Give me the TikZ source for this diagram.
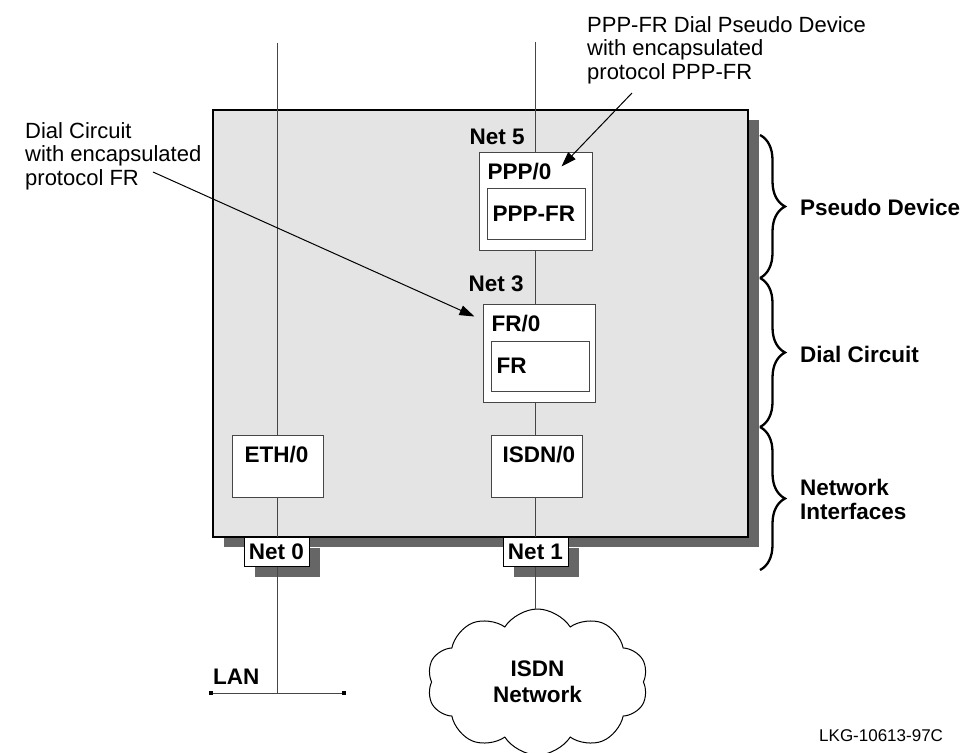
\documentclass[tikz,border=0pt]{standalone}
\usepackage{fontspec}
\setmainfont{Liberation Sans}
\usepackage{tikz}
\usetikzlibrary{shapes.symbols}
\usetikzlibrary{arrows.meta}
\usetikzlibrary{shadows}
\usetikzlibrary{decorations.pathreplacing}
\definecolor{panelgray}{RGB}{228,228,228}
\definecolor{shadegray}{RGB}{102,102,102}
\definecolor{wiregray}{RGB}{70,70,70}
\tikzset{
	dev box/.style={rectangle,draw=wiregray,fill=white,line width=1pt,inner sep=0pt},
	net box/.style={rectangle,draw=black,fill=white,line width=1pt,inner sep=0pt,
		minimum width=65pt,minimum height=29pt,font=\bfseries\fontsize{22.5}{24}\selectfont,
		drop shadow={shadow xshift=11pt,shadow yshift=-11pt,fill=shadegray,opacity=1}},
	lbl/.style={inner sep=0pt,font=\bfseries\fontsize{22.5}{23.5}\selectfont},
	note/.style={inner sep=0pt,align=left,font=\fontsize{22}{23.5}\selectfont},
	wire/.style={draw=wiregray,line width=1pt},
	side brace/.style={decorate,decoration={brace,amplitude=25pt},line width=2.3pt},
	lan end/.style={rectangle,fill=black,inner sep=0pt,minimum size=4pt}
}

\begin{document}
\begin{tikzpicture}[x=1pt,y=-1pt,>={Triangle[length=15pt,width=10pt]}]
	\useasboundingbox (0,0) rectangle (963,752);
	% router panel
	\node [draw=black,fill=panelgray,line width=1.2pt,minimum width=535pt,minimum height=427pt,
		drop shadow={shadow xshift=11pt,shadow yshift=-10pt,fill=shadegray,opacity=1}] (router) at (480.5,323.5) {};
	% devices
	\node [dev box,minimum width=113pt,minimum height=98pt] (ppp0) at (535.5,201) {};
	\node [dev box,minimum width=98pt,minimum height=51pt] (pppfr) at (536,213.5) {};
	\node [dev box,minimum width=112pt,minimum height=98pt] (fr0) at (539,353) {};
	\node [dev box,minimum width=98pt,minimum height=50pt] (frbox) at (540,366) {};
	\node [dev box,minimum width=91pt,minimum height=62pt] (eth0) at (277.5,466) {};
	\node [dev box,minimum width=91pt,minimum height=62pt] (isdn0) at (536.5,466) {};
	\node [net box] (net0) at (276.5,551.5) {Net 0};
	\node [net box] (net1) at (535.5,551.5) {Net 1};
	\node [lbl,anchor=base west] (ppp0t) at ([shift={(9,28)}]ppp0.north west) {PPP/0};
	\node [lbl,anchor=base west] (pppfrt) at ([shift={(6,34)}]pppfr.north west) {PPP-FR};
	\node [lbl,anchor=base west] (fr0t) at ([shift={(9,28)}]fr0.north west) {FR/0};
	\node [lbl,anchor=base west] (frt) at ([shift={(6,33)}]frbox.north west) {FR};
	\node [lbl,anchor=base west] (eth0t) at ([shift={(13,28)}]eth0.north west) {ETH/0};
	\node [lbl,anchor=base west] (isdn0t) at ([shift={(12,28)}]isdn0.north west) {ISDN/0};
	\node [lbl,anchor=base west] (net5) at ([shift={(-9,-7)}]ppp0.north west) {Net 5};
	\node [lbl,anchor=base west] (net3) at ([shift={(-14,-12)}]fr0.north west) {Net 3};
	% outside
	\node [cloud,draw=black,fill=white,line width=1pt,cloud puffs=10,cloud puff arc=115,cloud ignores aspect,
		minimum width=221pt,minimum height=146pt,align=center,font=\bfseries\fontsize{22.5}{26}\selectfont] (isdnnet) at (537.5,682) {ISDN\\Network};
	\node [lan end] (lanL) at (211,693) {};
	\node [lan end] (lanR) at (344,693) {};
	\node [lbl,anchor=base west] (lan) at (213,684) {LAN};
	\coordinate (top0) at (277,43);
	\coordinate (top1) at (535,42);
	% wires
	\draw [wire] (lanL) -- (lanR);
	\draw [wire] (top0) -- (top0 |- eth0.north);
	\draw [wire] (top0 |- eth0.south) -- (top0 |- net0.north);
	\draw [wire] (top0 |- net0.south) -- (top0 |- lanL);
	\draw [wire] (top1) -- (top1 |- ppp0.north);
	\draw [wire] (top1 |- ppp0.south) -- (top1 |- fr0.north);
	\draw [wire] (top1 |- fr0.south) -- (top1 |- isdn0.north);
	\draw [wire] (top1 |- isdn0.south) -- (top1 |- net1.north);
	\draw [wire] (top1 |- net1.south) -- (top1 |- isdnnet.north);
	% notes
	\node [note,anchor=north west] (pppnote) at (587,16) {PPP-FR Dial Pseudo Device\\with encapsulated\\protocol PPP-FR};
	\node [note,anchor=north west] (dcnote) at (25,122) {Dial Circuit\\with encapsulated\\protocol FR};
	\coordinate (pppfrom) at (632,93);
	\coordinate (dcfrom) at (153,172);
	\draw [->,line width=1pt] (pppfrom) -- ([shift={(-31,15)}]ppp0.north east);
	\draw [->,line width=1pt] (dcfrom) -- ([shift={(-8,13)}]fr0.north west);
	% layers
	\draw [side brace] (760,135) -- (760,278);
	\draw [side brace] (760,278) -- (760,427);
	\draw [side brace] (760,427) -- (760,570);
	\node [lbl,anchor=base west] (pseudo) at (800,215) {Pseudo Device};
	\node [lbl,anchor=base west] (dial) at (800,362) {Dial Circuit};
	\node [lbl,anchor=north west,align=left] (netif) at (800,479) {Network\\Interfaces};
	\node [anchor=base west,inner sep=0pt,font=\fontsize{17}{20}\selectfont] (lkg) at (819,741) {LKG-10613-97C};
\end{tikzpicture}
\end{document}
